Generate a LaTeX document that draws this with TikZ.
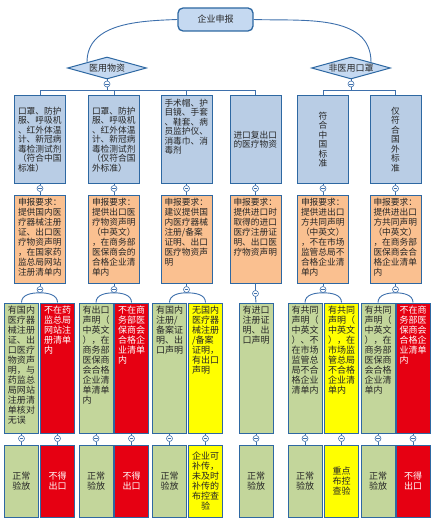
\documentclass[tikz,border=0pt]{standalone}
\usepackage{fontspec}
\setmainfont{Noto Sans CJK SC}
\usetikzlibrary{shapes.geometric}

\definecolor{boxline}{RGB}{46,104,162}
\definecolor{linkblue}{RGB}{62,112,172}
\definecolor{paleblue}{RGB}{185,205,229}
\definecolor{rootblue}{RGB}{197,217,241}
\definecolor{tan}{RGB}{250,192,144}
\definecolor{sage}{RGB}{195,214,155}
\definecolor{alarm}{RGB}{230,0,18}
\definecolor{caution}{RGB}{255,255,0}
\definecolor{ink}{RGB}{38,38,38}

\tikzset{
  link/.style={draw=linkblue, line width=0.9pt},
  card/.style n args={3}{draw=boxline, line width=1pt, inner xsep=3.5pt, inner ysep=3pt, text=ink,
    execute at begin node={\begin{minipage}[c][#2][#3]{#1}\lineskiplimit=-10pt\raggedright},
    execute at end node={\end{minipage}}},
  middle/.style={execute at begin node=\centering},
  rootbox/.style={draw=boxline, line width=1.3pt, fill=rootblue, rounded corners=5pt,
    minimum width=75pt, minimum height=23pt, text=ink, font=\fontsize{9}{10}\selectfont},
  kindbox/.style={diamond, aspect=3.6, draw=boxline, line width=1pt, fill=rootblue, inner sep=0pt,
    minimum width=79pt, minimum height=22pt, text=ink, font=\fontsize{9}{10}\selectfont},
  fold/.style={circle, draw=linkblue, fill=white, line width=0.6pt, inner sep=0pt, minimum size=6pt,
    path picture={\draw[linkblue, line width=0.5pt] ([xshift=-1.7pt]path picture bounding box.center)
      -- ([xshift=1.7pt]path picture bounding box.center);}},
  tiertwo/.style={card={44pt}{81pt}{#1}, fill=paleblue, font=\fontsize{8.7}{9.5}\selectfont},
  tierthree/.style={card={44pt}{82pt}{t}, fill=tan, font=\fontsize{8.7}{10}\selectfont},
  tierfour/.style={card={27pt}{124pt}{t}, fill=#1, font=\fontsize{9}{10}\selectfont},
  tierfive/.style={card={27pt}{66pt}{c}, fill=#1, font=\fontsize{9}{10}\selectfont, middle},
  whiteink/.style={text=white}
}

\begin{document}
\begin{tikzpicture}[x=1pt,y=-1pt]
  \useasboundingbox (0,0) rectangle (437,532);

  % Root and the two kinds of goods
  \node[rootbox] (apply) at (215.5,19.5) {企业申报};
  \node[kindbox] (med) at (107,68) {医用物资};
  \node[kindbox] (nonmed) at (351,68) {非医用口罩};
  \draw[link] (apply.west) to[out=182,in=90] (med.north west);
  \draw[link] (apply.east) to[out=-2,in=90] (nonmed.north east);
  \node[fold] (fmed) at (107,84) {};
  \node[fold] (fnon) at (351,84) {};
  \draw[link] (med.south) -- (fmed.north);
  \draw[link] (nonmed.south) -- (fnon.north);

  % Goods
  \node[tiertwo=c] (cat1) at (40,139.5) {口罩、防护\\服、呼吸机\\、红外体温\\计、新冠病\\毒检测试剂\\（符合中国\\标准）};
  \node[tiertwo=c] (cat2) at (114,139.5) {口罩、防护\\服、呼吸机\\、红外体温\\计、新冠病\\毒检测试剂\\（仅符合国\\外标准）};
  \node[tiertwo=t] (cat3) at (186.5,139.5) {手术帽、护\\目镜、手套\\、鞋套、病\\员监护仪、\\消毒巾、消\\毒剂};
  \node[tiertwo=c] (cat4) at (255.5,139.5) {进口复出口\\的医疗物资};
  \node[tiertwo=c, middle] (cat5) at (323,139.5) {符\\合\\中\\国\\标\\准};
  \node[tiertwo=c, middle] (cat6) at (395.5,139.5) {仅\\符\\合\\国\\外\\标\\准};
  \foreach \n in {1,...,4} \draw[link] (fmed.south) |- ([yshift=5pt]cat\n.north) -- (cat\n.north);
  \foreach \n in {5,6} \draw[link] (fnon.south) |- ([yshift=5pt]cat\n.north) -- (cat\n.north);

  % Requirements
  \node[tierthree] (req1) at (40,239) {申报要求：\\提供国内医\\疗器械注册\\证、出口医\\疗物资声明\\，在国家药\\监总局网站\\注册清单内};
  \node[tierthree] (req2) at (114,239) {申报要求：\\提供出口医\\疗物资声明\\（中英文）\\，在商务部\\医保商会的\\合格企业清\\单内};
  \node[tierthree] (req3) at (186.5,239) {申报要求：\\建议提供国\\内医疗器械\\注册/备案\\证明、出口\\医疗物资声\\明};
  \node[tierthree] (req4) at (255.5,239) {申报要求：\\提供进口时\\取得的进口\\医疗注册证\\明、出口医\\疗物资声明};
  \node[tierthree] (req5) at (323,239) {申报要求：\\提供进出口\\方共同声明\\（中英文）\\，不在市场\\监管总局不\\合格企业清\\单内};
  \node[tierthree] (req6) at (395.5,239) {申报要求：\\提供进出口\\方共同声明\\（中英文）\\，在商务部\\医保商会合\\格企业清单\\内};
  \foreach \n in {1,...,6} {
    \node[fold] (fc\n) at ([yshift=-5pt]cat\n.south) {};
    \draw[link] (cat\n.south) -- (fc\n.north) (fc\n.south) -- (req\n.north);
  }

  % Documents held
  \node[tierfour=sage] (docA1) at (21.5,368) {有国内\\医疗器\\械注册\\证、出\\口医疗\\物资声\\明，与\\药监总\\局网站\\注册清\\单核对\\无误};
  \node[tierfour=alarm, whiteink] (docB1) at (57.5,368) {不在药\\监总局\\网站注\\册清单\\内};
  \node[tierfour=sage] (docA2) at (96,368) {有出口\\声明（\\中英文\\），在\\商务部\\医保商\\会合格\\企业清\\单清单\\内};
  \node[tierfour=alarm, whiteink] (docB2) at (131.5,368) {不在商\\务部医\\保商会\\合格企\\业清单\\内};
  \node[tierfour=sage] (docA3) at (169.5,368) {有国内\\注册/\\备案证\\明、出\\口声明};
  \node[tierfour=caution] (docB3) at (205.5,368) {无国内\\医疗器\\械注册\\/备案\\证明，\\有出口\\声明};
  \node[tierfour=sage] (docA4) at (256,368) {有进口\\注册证\\明、出\\口声明};
  \node[tierfour=sage] (docA5) at (305,368) {有共同\\声明（\\中英文\\）、不\\在市场\\监管总\\局不合\\格企业\\清单内};
  \node[tierfour=caution] (docB5) at (341.5,368) {有共同\\声明（\\中英文\\），在\\市场监\\管总局\\不合格\\企业清\\单内};
  \node[tierfour=sage] (docA6) at (378,368) {有共同\\声明（\\中英文\\），在\\商务部\\医保商\\会合格\\企业清\\单内};
  \node[tierfour=alarm, whiteink] (docB6) at (413,368) {不在商\\务部医\\保商会\\合格企\\业清单\\内};
  \foreach \n in {1,2,3,5,6} {
    \node[fold] (fr\n) at ([yshift=-6pt]req\n.south) {};
    \draw[link] (req\n.south) -- (fr\n.north);
    \draw[link] (docA\n.north) to[out=90,in=180] (fr\n.south) to[out=0,in=90] (docB\n.north);
  }
  \node[fold] (fr4) at ([yshift=-10pt]req4.south) {};
  \draw[link] (req4.south) -- (fr4.north) (fr4.south) -- (docA4.north);

  % Outcomes
  \node[tierfive=sage] (outA1) at (21.5,481) {正常\\验放};
  \node[tierfive=alarm, whiteink] (outB1) at (57.5,481) {不得\\出口};
  \node[tierfive=sage] (outA2) at (96,481) {正常\\验放};
  \node[tierfive=alarm, whiteink] (outB2) at (131.5,481) {不得\\出口};
  \node[tierfive=sage] (outA3) at (169.5,481) {正常\\验放};
  \node[tierfive=caution] (outB3) at (205.5,481) {企业可\\补传，\\未及时\\补传的\\布控查\\验};
  \node[tierfive=sage] (outA4) at (256,481) {正常\\验放};
  \node[tierfive=sage] (outA5) at (305,481) {正常\\验放};
  \node[tierfive=caution] (outB5) at (341.5,481) {重点\\布控\\查验};
  \node[tierfive=sage] (outA6) at (378,481) {正常\\验放};
  \node[tierfive=alarm, whiteink] (outB6) at (413,481) {不得\\出口};
  \foreach \k in {A1,B1,A2,B2,A3,B3,A4,A5,B5,A6,B6} {
    \node[fold] (fd\k) at ([yshift=-5pt]doc\k.south) {};
    \draw[link] (doc\k.south) -- (fd\k.north) (fd\k.south) -- (out\k.north);
  }
\end{tikzpicture}
\end{document}
